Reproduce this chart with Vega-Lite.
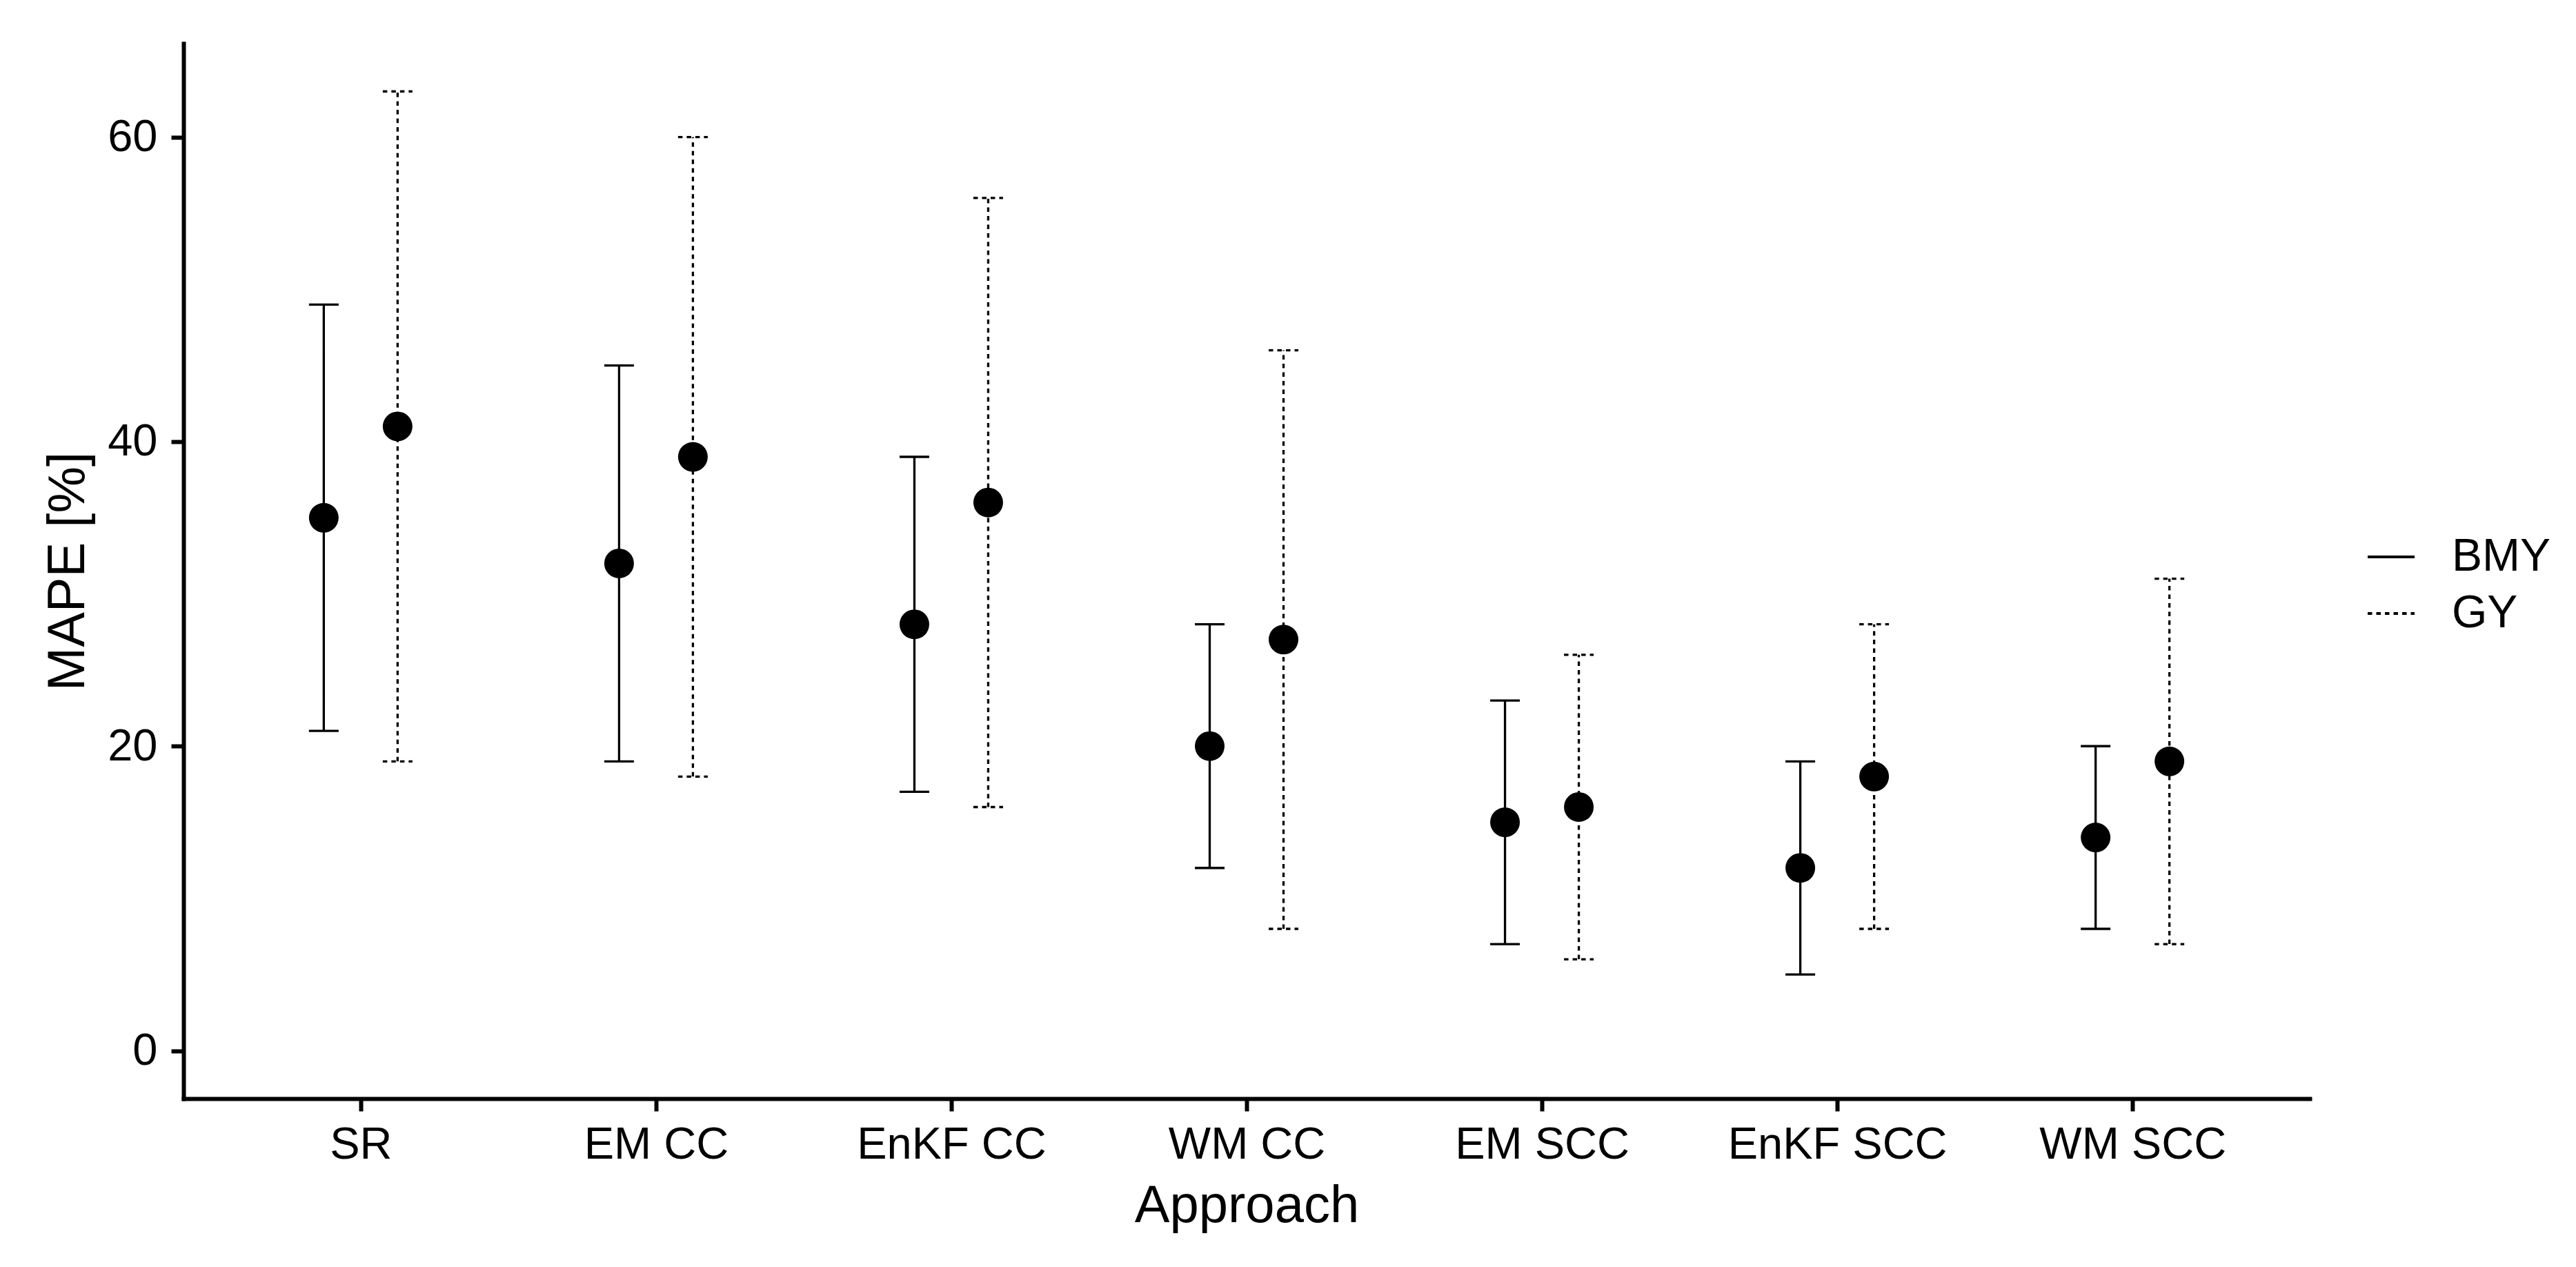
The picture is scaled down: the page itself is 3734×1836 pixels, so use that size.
{
  "$schema": "https://vega.github.io/schema/vega-lite/v6.json",
  "autosize": "none",
  "width": 3082,
  "height": 1529,
  "padding": {"left": 266, "top": 63, "right": 386, "bottom": 244},
  "background": "white",
  "config": {
    "view": {"stroke": null},
    "font": "Liberation Sans",
    "axis": {
      "grid": false,
      "domainColor": "black",
      "domainWidth": 6,
      "domainCap": "square",
      "tickColor": "black",
      "tickWidth": 6,
      "tickSize": 18,
      "labelFont": "Liberation Sans",
      "labelFontSize": 65,
      "labelColor": "black",
      "labelLimit": 0,
      "titleFont": "Liberation Sans",
      "titleFontSize": 76,
      "titleFontWeight": "normal",
      "titleColor": "black"
    },
    "legend": {
      "labelFont": "Liberation Sans",
      "labelFontSize": 66,
      "labelColor": "black"
    }
  },
  "data": {
    "values": [
      {"approach": "SR", "group": "BMY", "mean": 35, "lower": 21, "upper": 49},
      {"approach": "SR", "group": "GY", "mean": 41, "lower": 19, "upper": 63},
      {"approach": "EM CC", "group": "BMY", "mean": 32, "lower": 19, "upper": 45},
      {"approach": "EM CC", "group": "GY", "mean": 39, "lower": 18, "upper": 60},
      {"approach": "EnKF CC", "group": "BMY", "mean": 28, "lower": 17, "upper": 39},
      {"approach": "EnKF CC", "group": "GY", "mean": 36, "lower": 16, "upper": 56},
      {"approach": "WM CC", "group": "BMY", "mean": 20, "lower": 12, "upper": 28},
      {"approach": "WM CC", "group": "GY", "mean": 27, "lower": 8, "upper": 46},
      {"approach": "EM SCC", "group": "BMY", "mean": 15, "lower": 7, "upper": 23},
      {"approach": "EM SCC", "group": "GY", "mean": 16, "lower": 6, "upper": 26},
      {"approach": "EnKF SCC", "group": "BMY", "mean": 12, "lower": 5, "upper": 19},
      {"approach": "EnKF SCC", "group": "GY", "mean": 18, "lower": 8, "upper": 28},
      {"approach": "WM SCC", "group": "BMY", "mean": 14, "lower": 8, "upper": 20},
      {"approach": "WM SCC", "group": "GY", "mean": 19, "lower": 7, "upper": 31}
    ]
  },
  "encoding": {
    "x": {
      "field": "approach",
      "type": "nominal",
      "sort": ["SR", "EM CC", "EnKF CC", "WM CC", "EM SCC", "EnKF SCC", "WM SCC"],
      "scale": {"type": "point", "padding": 0.6},
      "axis": {
        "title": "Approach",
        "labelAngle": 0,
        "labelBaseline": "alphabetic",
        "labelPadding": 68,
        "titleBaseline": "alphabetic",
        "titleY": 178
      }
    }
  },
  "layer": [
    {
      "transform": [{"filter": "datum.group == 'BMY'"}],
      "layer": [
        {
          "mark": {"type": "rule", "xOffset": -53.5, "strokeWidth": 3.3, "color": "black"},
          "encoding": {
            "y": {
              "field": "lower", "type": "quantitative", "title": "MAPE [%]",
              "scale": {"domain": [-3.15, 66.15], "nice": false, "zero": false},
              "axis": {"values": [0, 20, 40, 60], "labelPadding": 20, "titleBaseline": "alphabetic", "titleX": -145}
            },
            "y2": {"field": "upper"},
            "strokeDash": {
              "field": "group", "type": "nominal",
              "scale": {"domain": ["BMY", "GY"], "range": [[1, 0], [6.5, 6]]},
              "legend": {
                "title": null,
                "orient": "none",
                "legendX": 3164,
                "legendY": 708,
                "padding": 0,
                "symbolType": "stroke",
                "symbolSize": 4624,
                "symbolStrokeWidth": 4,
                "symbolStrokeColor": "black",
                "labelOffset": 52,
                "rowPadding": 13
              }
            }
          }
        },
        {
          "mark": {"type": "rule", "xOffset": -75, "x2Offset": -32, "strokeWidth": 3.3, "color": "black"},
          "encoding": {
            "x2": {"field": "approach"},
            "y": {"field": "upper", "type": "quantitative", "title": "MAPE [%]"},
            "strokeDash": {"field": "group", "type": "nominal"}
          }
        },
        {
          "mark": {"type": "rule", "xOffset": -75, "x2Offset": -32, "strokeWidth": 3.3, "color": "black"},
          "encoding": {
            "x2": {"field": "approach"},
            "y": {"field": "lower", "type": "quantitative", "title": "MAPE [%]"},
            "strokeDash": {"field": "group", "type": "nominal"}
          }
        },
        {
          "mark": {"type": "circle", "xOffset": -53.5, "size": 1850, "opacity": 1, "color": "black"},
          "encoding": {
            "y": {"field": "mean", "type": "quantitative", "title": "MAPE [%]"}
          }
        }
      ]
    },
    {
      "transform": [{"filter": "datum.group == 'GY'"}],
      "layer": [
        {
          "mark": {"type": "rule", "xOffset": 53.5, "strokeWidth": 3.3, "color": "black"},
          "encoding": {
            "y": {"field": "lower", "type": "quantitative", "title": "MAPE [%]"},
            "y2": {"field": "upper"},
            "strokeDash": {"field": "group", "type": "nominal"}
          }
        },
        {
          "mark": {"type": "rule", "xOffset": 32, "x2Offset": 75, "strokeWidth": 3.3, "color": "black"},
          "encoding": {
            "x2": {"field": "approach"},
            "y": {"field": "upper", "type": "quantitative", "title": "MAPE [%]"},
            "strokeDash": {"field": "group", "type": "nominal"}
          }
        },
        {
          "mark": {"type": "rule", "xOffset": 32, "x2Offset": 75, "strokeWidth": 3.3, "color": "black"},
          "encoding": {
            "x2": {"field": "approach"},
            "y": {"field": "lower", "type": "quantitative", "title": "MAPE [%]"},
            "strokeDash": {"field": "group", "type": "nominal"}
          }
        },
        {
          "mark": {"type": "circle", "xOffset": 53.5, "size": 1850, "opacity": 1, "color": "black"},
          "encoding": {
            "y": {"field": "mean", "type": "quantitative", "title": "MAPE [%]"}
          }
        }
      ]
    }
  ]
}
